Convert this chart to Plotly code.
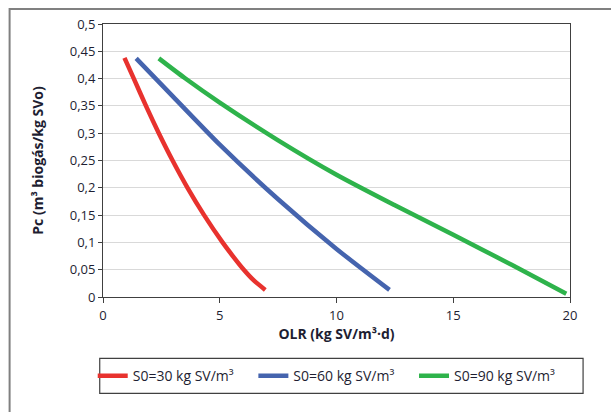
import plotly.graph_objects as go

# Data
red_x = [0.92, 1.32, 1.84, 2.39, 2.98, 3.62, 4.33, 5.12, 5.56, 6.03, 6.47, 6.95]
red_y = [0.438, 0.40, 0.35, 0.30, 0.25, 0.20, 0.15, 0.10, 0.075, 0.05, 0.03, 0.013]
blue_x = [1.42, 3.0, 5.0, 7.5, 10.0, 12.27]
blue_y = [0.437, 0.367, 0.279, 0.179, 0.088, 0.013]
green_x = [2.39, 3.5, 5.0, 7.5, 10.0, 12.5, 15.0, 17.5, 19.84]
green_y = [0.437, 0.401, 0.356, 0.287, 0.224, 0.168, 0.114, 0.059, 0.006]
names = ["S0=30 kg SV/m³", "S0=60 kg SV/m³", "S0=90 kg SV/m³"]
colors = ["#e8322e", "#4564ae", "#2eb34b"]

FONT = "Open Sans"
TXT = "#1e1e32"

fig = go.Figure()
legend_ids = ["legend", "legend2", "legend3"]
for xs, ys, n, c, lg in zip([red_x, blue_x, green_x], [red_y, blue_y, green_y], names, colors, legend_ids):
    fig.add_trace(go.Scatter(x=xs, y=ys, name=n, mode="lines", legend=lg,
                             line=dict(color=c, width=4.5, shape="spline", smoothing=0.7)))

leg_common = dict(orientation="h", xanchor="left", y=-0.29, yanchor="middle",
                  font=dict(family=FONT, size=14, color=TXT),
                  bgcolor="rgba(0,0,0,0)", borderwidth=0, itemwidth=30)

fig.update_layout(
    width=611, height=412,
    margin=dict(l=103, r=41, t=24, b=115, autoexpand=False),
    paper_bgcolor="white", plot_bgcolor="white",
    separators=", ",
    font=dict(family=FONT, size=12, color=TXT),
    showlegend=True,
    legend=dict(x=-0.022, **leg_common),
    legend2=dict(x=0.322, **leg_common),
    legend3=dict(x=0.666, **leg_common),
    xaxis=dict(range=[0, 20], dtick=5, tick0=0, showgrid=False, zeroline=False, automargin=False,
               showline=True, linecolor="#404040", linewidth=1, mirror=True,
               ticks="outside", ticklen=5, tickcolor="#404040",
               tickfont=dict(family=FONT, size=13, color=TXT), ticklabelstandoff=1,
               title=dict(text="<b>OLR (kg SV/m³·d)</b>", standoff=6,
                          font=dict(family=FONT, size=14, color=TXT))),
    yaxis=dict(range=[0, 0.5], dtick=0.05, tick0=0, showgrid=True, gridcolor="#d9d9d9",
               gridwidth=1, zeroline=False, automargin=False,
               showline=True, linecolor="#404040", linewidth=1, mirror=True,
               ticks="outside", ticklen=4, tickcolor="#404040",
               tickfont=dict(family=FONT, size=13, color=TXT),
               title=dict(text="<b>Pc (m³ biogás/kg SVo)</b>", standoff=22,
                          font=dict(family=FONT, size=14, color=TXT))),
    shapes=[
        dict(type="rect", xref="paper", yref="paper", x0=-0.007, x1=1.028, y0=-0.353, y1=-0.225,
             line=dict(color="#404040", width=1.2), fillcolor="rgba(0,0,0,0)", layer="below"),
        dict(type="rect", xref="paper", yref="paper", x0=-0.2, x1=2.0, y0=-2.0, y1=1.055,
             line=dict(color="#808080", width=2), fillcolor="rgba(0,0,0,0)", layer="below"),
    ],
)

fig.write_html("out.html", config={"displayModeBar": False},
               post_script="document.body.style.margin='0';")
